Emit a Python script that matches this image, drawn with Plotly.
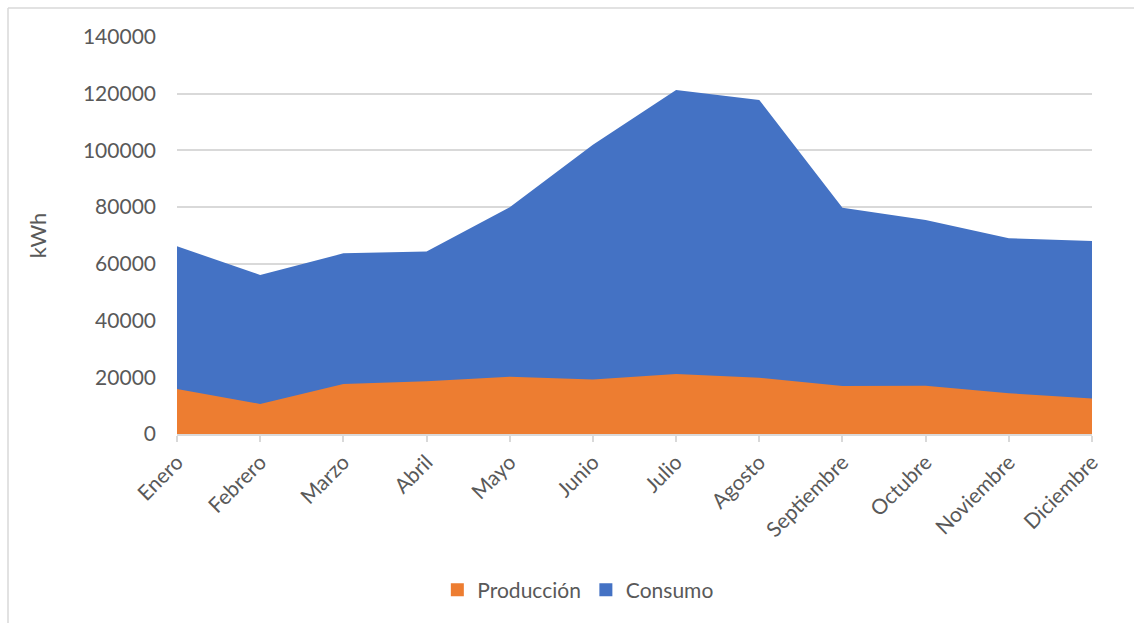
import plotly.graph_objects as go

meses = ["Enero", "Febrero", "Marzo", "Abril", "Mayo", "Junio", "Julio",
         "Agosto", "Septiembre", "Octubre", "Noviembre", "Diciembre"]
consumo = [66200, 56100, 63700, 64400, 80000, 102000, 121300, 117800,
           79800, 75500, 69000, 68100]
produccion = [15900, 10600, 17600, 18600, 20200, 19200, 21200, 19800,
              16900, 17000, 14400, 12500]

AZUL = "#4472C4"
NARANJA = "#ED7D31"
GRIS_TXT = "#595959"
GRIS_LIN = "#D9D9D9"
FUENTE = "Lato, 'Open Sans', sans-serif"

W, H = 1134, 623
ML, MR, MT, MB = 177, 42, 37, 189

x_idx = list(range(len(meses)))

fig = go.Figure()
fig.add_trace(go.Scatter(
    x=x_idx, y=consumo, name="Consumo", showlegend=False,
    mode="none", fill="tozeroy", fillcolor=AZUL,
))
fig.add_trace(go.Scatter(
    x=x_idx, y=produccion, name="Producción", showlegend=False,
    mode="none", fill="tozeroy", fillcolor=NARANJA,
))
# square legend keys
for nombre, color in [("Producción", NARANJA), ("Consumo", AZUL)]:
    fig.add_trace(go.Scatter(
        x=[None], y=[None], name=nombre, mode="markers",
        marker=dict(symbol="square", size=13, color=color),
    ))

# chart frame: only top and left edges are visible within the page
pw = W - ML - MR
ph = H - MT - MB
def px_x(p):
    return (p - ML) / pw
def px_y(p):
    return (H - MB - p) / ph

fig.add_shape(type="line", xref="paper", yref="paper",
              x0=px_x(8), x1=px_x(W + 5), y0=px_y(8), y1=px_y(8),
              line=dict(color=GRIS_LIN, width=1.5))
fig.add_shape(type="line", xref="paper", yref="paper",
              x0=px_x(8), x1=px_x(8), y0=px_y(8), y1=px_y(H + 5),
              line=dict(color=GRIS_LIN, width=1.5))

fig.update_layout(
    width=W, height=H,
    margin=dict(l=ML, r=MR, t=MT, b=MB),
    paper_bgcolor="white", plot_bgcolor="white",
    font=dict(family=FUENTE, color=GRIS_TXT, size=21),
    showlegend=True,
    legend=dict(
        orientation="h",
        xref="container", yref="container",
        x=0.51, xanchor="center", y=0.053, yanchor="middle",
        font=dict(size=21, color=GRIS_TXT),
        itemwidth=30,
        tracegroupgap=0,
    ),
    xaxis=dict(
        tickmode="array", tickvals=x_idx, ticktext=meses,
        range=[0, len(meses) - 1], tickangle=-45,
        showgrid=False, showline=True, linecolor=GRIS_LIN, linewidth=1.5,
        ticks="outside", ticklen=6, tickcolor=GRIS_LIN, tickwidth=1.5,
        tickfont=dict(size=21, color=GRIS_TXT), zeroline=False,
    ),
    yaxis=dict(
        range=[0, 140000], dtick=20000, tickformat="d",
        showgrid=True, gridcolor=GRIS_LIN, gridwidth=1.5,
        zeroline=False, showline=False, ticks="",
        ticklabelstandoff=20,
        tickfont=dict(size=21, color=GRIS_TXT),
        title=dict(text="kWh", font=dict(size=22, color=GRIS_TXT), standoff=30),
    ),
)

fig.write_html("out.html")
